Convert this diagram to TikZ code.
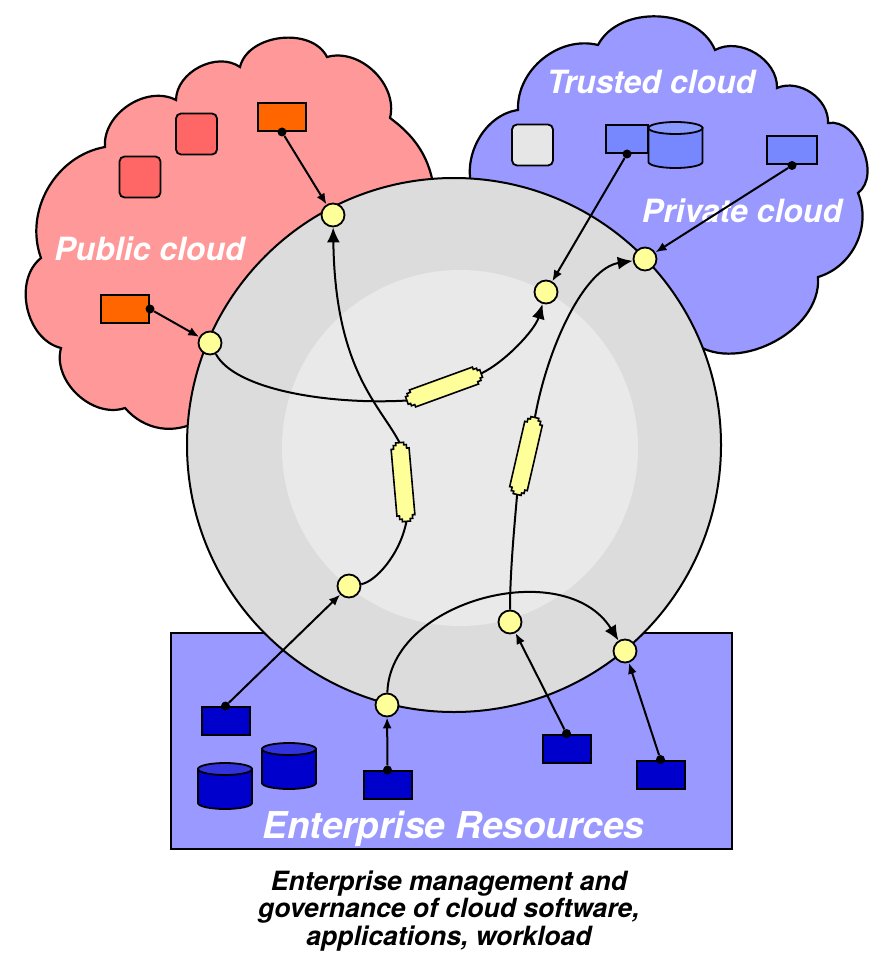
\documentclass[tikz,border=0pt]{standalone}
\usepackage{fontspec}
\setmainfont{TeX Gyre Heros}
\usetikzlibrary{arrows.meta}

\definecolor{pubcloud}{HTML}{FF9999}
\definecolor{pubbox}{HTML}{FF6600}
\definecolor{pubsquare}{HTML}{FF6666}
\definecolor{privcloud}{HTML}{9999FF}
\definecolor{privbox}{HTML}{7788FF}
\definecolor{privtop}{HTML}{8899FF}
\definecolor{trustsquare}{HTML}{E6E6E6}
\definecolor{entbox}{HTML}{0000CC}
\definecolor{enttop}{HTML}{3333DD}
\definecolor{ringouter}{HTML}{DCDCDC}
\definecolor{ringinner}{HTML}{E9E9E9}
\definecolor{hubyellow}{HTML}{FFFF99}

\tikzset{
  hub/.style={circle,draw,line width=1.8pt,fill=hubyellow,minimum size=23pt,inner sep=0pt},
  port/.style={circle,fill=black,minimum size=9pt,inner sep=0pt},
  app/.style={rectangle,draw,line width=2pt,inner sep=0pt,minimum width=48pt,minimum height=28pt},
  vm/.style={rectangle,rounded corners=5pt,draw,line width=1.8pt,inner sep=0pt,minimum size=41pt},
  feed/.style={line width=2pt,-{Latex[length=11pt,width=9pt]}},
  flow/.style={line width=2pt,-{Latex[length=15pt,width=13pt]}},
  wire/.style={line width=2pt},
  cloudname/.style={text=white,inner sep=0pt,font=\fontsize{32}{36}\selectfont\bfseries\itshape},
  link/.pic={
    \draw[line width=1.6pt,fill=hubyellow] (-39.5,-4) -- (-37,-4) -- (-37,-6.5) -- (-33.5,-6.5) -- (-33.5,-9)
      -- (33.5,-9) -- (33.5,-6.5) -- (37,-6.5) -- (37,-4) -- (39.5,-4) -- (39.5,4) -- (37,4) -- (37,6.5)
      -- (33.5,6.5) -- (33.5,9) -- (-33.5,9) -- (-33.5,6.5) -- (-37,6.5) -- (-37,4) -- (-39.5,4) -- cycle;
    \coordinate (-a) at (-39.5,0);
    \coordinate (-b) at (39.5,0);
  },
  pics/drum/.style 2 args={code={
    \draw[line width=1.8pt,fill=#1] (-27,0) -- (-27,-34) arc[start angle=180,end angle=360,x radius=27,y radius=6] -- (27,0) -- cycle;
    \draw[line width=1.8pt,fill=#2] (0,0) ellipse[x radius=27,y radius=6];
  }}
}

\begin{document}
\begin{tikzpicture}[x=1pt,y=1pt]
\useasboundingbox (0,0) rectangle (872,-960);

% clouds and enterprise box
\draw[line width=2.2pt,fill=pubcloud] (200,-420) to[bend left=40] (125,-408) to[bend left=62] (61,-348)
  to[bend left=64] (41,-258) to[bend left=50] (105,-147) to[bend left=61] (176,-100) to[bend left=62] (240,-67)
  to[bend left=70] (327,-57) to[bend left=60] (390,-118) to[bend left=25] (435,-200) -- (300,-330) -- cycle;
\draw[line width=2.2pt,fill=privcloud] (478,-200) to[bend left=58] (518,-110) to[bend left=53] (598,-45)
  to[bend left=65] (715,-50) to[bend left=60] (777,-88) to[bend left=58] (828,-123) to[bend left=76] (858,-193)
  to[bend left=48] (818,-277) to[bend left=68] (690,-340) -- (600,-250) -- cycle;
\draw[line width=2.2pt,fill=privcloud] (171,-633) rectangle (732,-849);

% management ring
\draw[line width=2pt,fill=ringouter] (454,-445) circle[radius=267];
\fill[ringinner] (460,-448) circle[radius=178];

% public cloud
\node[vm,fill=pubsquare] (vm1) at (140,-177) {};
\node[vm,fill=pubsquare] (vm2) at (196.5,-134) {};
\node[app,fill=pubbox] (pub1) at (282,-117) {};
\node[app,fill=pubbox] (pub2) at (125,-309) {};
\node[port] (pt1) at (pub1.south) {};
\node[port] (pt2) at (pub2.east) {};
\node[cloudname,anchor=base] (tpub) at (149.5,-260) {Public cloud};

% trusted and private cloud
\node[vm,fill=trustsquare] (vm3) at (532.5,-145) {};
\node[app,fill=privbox,minimum width=42pt] (tr1) at (627,-139) {};
\pic (db0) at (675.5,-128) {drum={privbox}{privtop}};
\node[app,fill=privbox,minimum width=50pt] (pr1) at (792,-150.5) {};
\node[port] (pt3) at (tr1.south) {};
\node[port] (pt4) at (pr1.south) {};
\node[cloudname,anchor=base] (ttrust) at (651,-94) {Trusted cloud};
\node[cloudname,anchor=base] (tpriv) at (742,-222) {Private cloud};

% enterprise resources
\node[app,fill=entbox] (en1) at (225.5,-721) {};
\pic (db1) at (225,-769) {drum={entbox}{enttop}};
\pic (db2) at (289,-749) {drum={entbox}{enttop}};
\node[app,fill=entbox] (en2) at (387.5,-785) {};
\node[app,fill=entbox] (en3) at (566.5,-748.5) {};
\node[app,fill=entbox] (en4) at (660.5,-774.5) {};
\node[port] (pe1) at (en1.north) {};
\node[port] (pe2) at (en2.north) {};
\node[port] (pe3) at (en3.north) {};
\node[port] (pe4) at (en4.north) {};
\node[cloudname,font=\fontsize{37}{40}\selectfont\bfseries\itshape,anchor=base] (tent) at (453.5,-838) {Enterprise Resources};

\node[font=\fontsize{26.5}{27.5}\selectfont\bfseries\itshape,align=center] (caption) at (449,-911)
  {Enterprise management and\\governance of cloud software,\\applications, workload};

% hubs and links
\node[hub] (hpub1) at (333,-215) {};
\node[hub] (hpub2) at (210,-343) {};
\node[hub] (htrust) at (546,-292) {};
\node[hub] (hpriv) at (645,-259) {};
\node[hub] (hent1) at (349,-586) {};
\node[hub] (hent2) at (387,-705) {};
\node[hub] (hent3) at (510,-622) {};
\node[hub] (hent4) at (625,-651) {};
\pic[rotate=20] (lk1) at (444,-387) {link};
\pic[rotate=95] (lk2) at (403,-482) {link};
\pic[rotate=77] (lk3) at (526,-456) {link};

\draw[wire] (hpub2) .. controls (235,-390) and (330,-405) .. (lk1-a);
\draw[flow] (lk1-b) .. controls (505,-362) and (535,-330) .. (htrust);
\draw[wire] (hent1) .. controls (375,-582) and (400,-555) .. (lk2-a);
\draw[flow] (lk2-b) .. controls (380,-405) and (335,-370) .. (hpub1);
\draw[wire] (hent3) .. controls (510,-570) and (515,-520) .. (lk3-a);
\draw[flow] (lk3-b) .. controls (548,-345) and (585,-268) .. (hpriv);
\draw[flow] (hent2) .. controls (390,-600) and (565,-555) .. (hent4);

\draw[feed] (pt1) -- (hpub1);
\draw[feed] (pt2) -- (hpub2);
\draw[feed] (pt3) -- (htrust);
\draw[feed] (pt4) -- (hpriv);
\draw[feed] (pe1) -- (hent1);
\draw[feed] (pe2) -- (hent2);
\draw[feed] (pe3) -- (hent3);
\draw[feed] (pe4) -- (hent4);
\end{tikzpicture}
\end{document}
